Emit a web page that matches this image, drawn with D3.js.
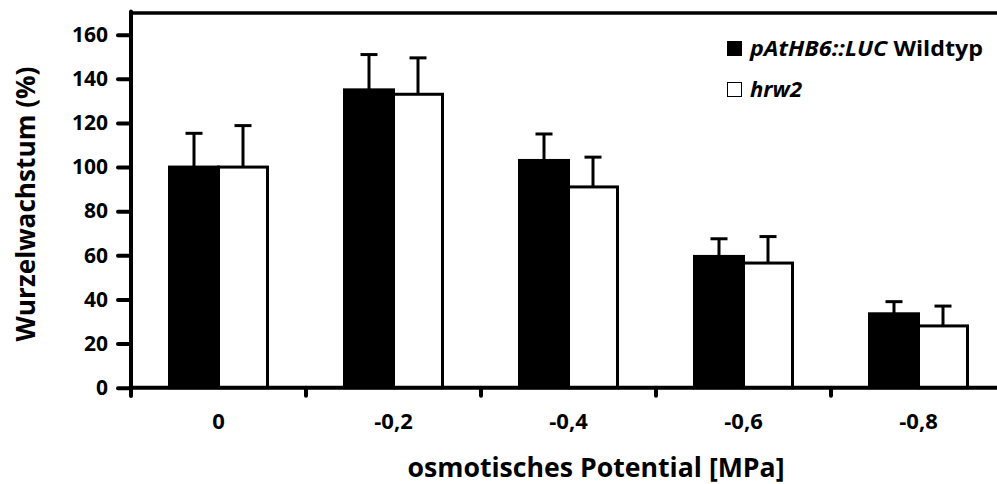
<!DOCTYPE html>
<html>
<head>
<meta charset="utf-8">
<script src="https://d3js.org/d3.v7.min.js"></script>
<style>
  body { margin: 0; background: #fff; }
  text { font-family: "Open Sans", sans-serif; font-weight: bold; fill: #000; }
</style>
</head>
<body>
<script>
var width = 997;
var height = 484;

// data
var categories = ["0", "-0,2", "-0,4", "-0,6", "-0,8"];
var seriesNames = ["wildtyp", "hrw2"];
var wildtyp = [100, 135, 103, 59.5, 33.5];
var wildtypErr = [15.3, 16, 12, 8, 5.5];
var hrw2 = [100, 133, 91, 56.5, 28];
var hrw2Err = [18.8, 16.5, 13.5, 12, 9];
var yTicks = [0, 20, 40, 60, 80, 100, 120, 140, 160];

var rows = categories.map(function(c, i) {
  return {cat: c, values: [
    {key: "wildtyp", v: wildtyp[i], e: wildtypErr[i]},
    {key: "hrw2", v: hrw2[i], e: hrw2Err[i]}
  ]};
});

var svg = d3.select("body").append("svg")
    .attr("width", width)
    .attr("height", height);

var x = d3.scaleBand()
    .domain(categories)
    .range([131, 1006]);

var xSub = d3.scaleBand()
    .domain(seriesNames)
    .range([-49, 49]);

var y = d3.scaleLinear()
    .domain([0, 160])
    .range([387.7, 34.7]);

var fills = {wildtyp: "#000", hrw2: "#fff"};

// bars
var groups = svg.append("g").selectAll("g")
  .data(rows)
  .enter().append("g")
  .attr("transform", function(d) { return "translate(" + (x(d.cat) + x.bandwidth() / 2) + ",0)"; });

groups.selectAll("rect")
  .data(function(d) { return d.values; })
  .enter().append("rect")
  .attr("x", function(d) { return xSub(d.key); })
  .attr("y", function(d) { return y(d.v); })
  .attr("width", xSub.bandwidth())
  .attr("height", function(d) { return y(0) - y(d.v); })
  .attr("fill", function(d) { return fills[d.key]; })
  .attr("stroke", "#000")
  .attr("stroke-width", 3);

// error bars (upper only)
groups.selectAll("line.err")
  .data(function(d) { return d.values; })
  .enter().append("line")
  .attr("class", "err")
  .attr("x1", function(d) { return xSub(d.key) + xSub.bandwidth() / 2; })
  .attr("x2", function(d) { return xSub(d.key) + xSub.bandwidth() / 2; })
  .attr("y1", function(d) { return y(d.v); })
  .attr("y2", function(d) { return y(d.v + d.e); })
  .attr("stroke", "#000")
  .attr("stroke-width", 3);

groups.selectAll("line.cap")
  .data(function(d) { return d.values; })
  .enter().append("line")
  .attr("class", "cap")
  .attr("x1", function(d) { return xSub(d.key) + xSub.bandwidth() / 2 - 8.5; })
  .attr("x2", function(d) { return xSub(d.key) + xSub.bandwidth() / 2 + 8.5; })
  .attr("y1", function(d) { return y(d.v + d.e); })
  .attr("y2", function(d) { return y(d.v + d.e); })
  .attr("stroke", "#000")
  .attr("stroke-width", 3);

// top frame line
svg.append("line")
  .attr("x1", 129).attr("x2", width)
  .attr("y1", 13).attr("y2", 13)
  .attr("stroke", "#000").attr("stroke-width", 3.5);

// y axis
var yAxis = svg.append("g")
  .attr("transform", "translate(131,0)")
  .call(d3.axisLeft(y).tickValues(yTicks).tickSize(13).tickPadding(10));
yAxis.select(".domain").remove();
yAxis.selectAll(".tick line").attr("stroke-width", 4).attr("stroke-linecap", "round");
yAxis.selectAll(".tick text").style("font-size", "21px");

svg.append("line")
  .attr("x1", 131).attr("x2", 131)
  .attr("y1", 11.5).attr("y2", 396)
  .attr("stroke", "#000").attr("stroke-width", 4).attr("stroke-linecap", "round");

// x axis
var xAxis = svg.append("g")
  .attr("transform", "translate(0," + y(0) + ")")
  .call(d3.axisBottom(x).tickSize(0).tickPadding(26));
xAxis.select(".domain").remove();
xAxis.selectAll(".tick text").style("font-size", "22px");

svg.append("line")
  .attr("x1", 131).attr("x2", width)
  .attr("y1", y(0)).attr("y2", y(0))
  .attr("stroke", "#000").attr("stroke-width", 4);

svg.append("g").selectAll("line")
  .data(categories.slice(1))
  .enter().append("line")
  .attr("x1", function(d) { return x(d); })
  .attr("x2", function(d) { return x(d); })
  .attr("y1", y(0))
  .attr("y2", y(0) + 8)
  .attr("stroke", "#000").attr("stroke-width", 4).attr("stroke-linecap", "round");

// axis titles
svg.append("text")
  .attr("x", 596).attr("y", 477)
  .attr("text-anchor", "middle")
  .attr("textLength", 377).attr("lengthAdjust", "spacingAndGlyphs")
  .style("font-size", "26px")
  .text("osmotisches Potential [MPa]");

svg.append("text")
  .attr("transform", "translate(35,204) rotate(-90)")
  .attr("text-anchor", "middle")
  .attr("textLength", 275).attr("lengthAdjust", "spacingAndGlyphs")
  .style("font-size", "27px")
  .text("Wurzelwachstum (%)");

// legend
var legend = svg.append("g");
legend.append("rect")
  .attr("x", 727).attr("y", 41).attr("width", 15).attr("height", 15)
  .attr("fill", "#000");
legend.append("rect")
  .attr("x", 727.5).attr("y", 82.5).attr("width", 14).attr("height", 14)
  .attr("fill", "#fff").attr("stroke", "#000").attr("stroke-width", 1);

var t1 = legend.append("text")
  .attr("x", 750).attr("y", 56)
  .attr("textLength", 233).attr("lengthAdjust", "spacingAndGlyphs")
  .style("font-size", "21px");
t1.append("tspan").style("font-style", "italic").text("pAtHB6::LUC");
t1.append("tspan").text(" Wildtyp");

legend.append("text")
  .attr("x", 750).attr("y", 97)
  .attr("textLength", 52).attr("lengthAdjust", "spacingAndGlyphs")
  .style("font-size", "21px")
  .style("font-style", "italic")
  .text("hrw2");
</script>
</body>
</html>
